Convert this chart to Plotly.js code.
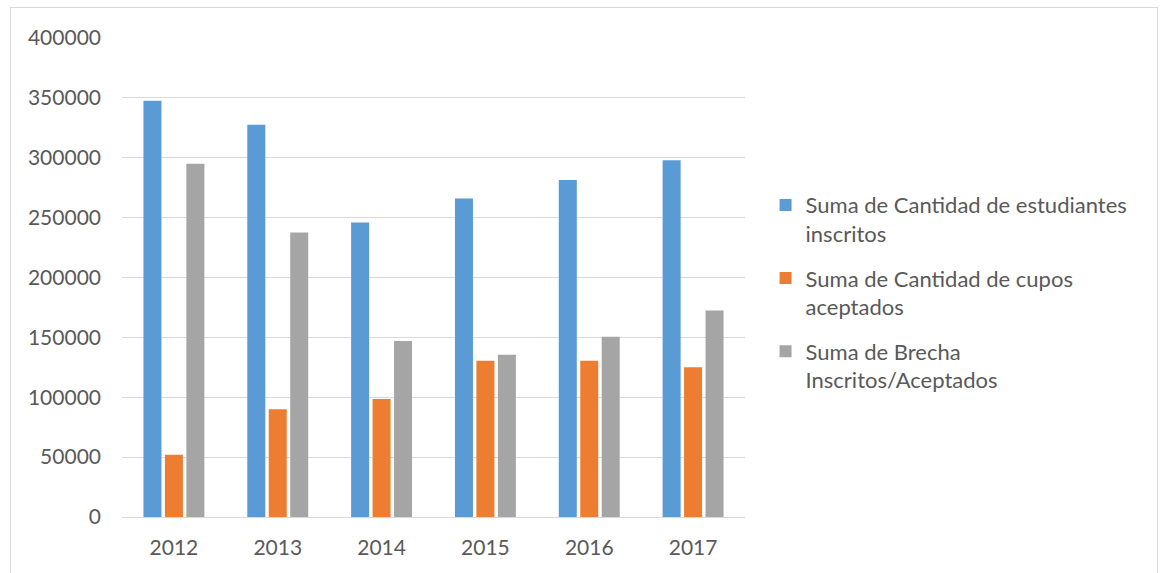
<!DOCTYPE html>
<html>
<head>
<meta charset="utf-8">
<script src="https://cdn.plot.ly/plotly-3.0.1.min.js"></script>
<style>
html,body{margin:0;padding:0;background:#fff;}
#wrap{position:relative;width:1160px;height:573px;overflow:hidden;}
#frame{position:absolute;left:10px;top:7px;width:1146px;height:600px;border:1px solid #d9d9d9;pointer-events:none;}
#chart{position:absolute;left:0;top:0;width:1160px;height:573px;}
</style>
</head>
<body>
<div id="wrap">
<div id="chart"></div>
<div id="frame"></div>
</div>
<script>
const years = ['2012','2013','2014','2015','2016','2017'];
const inscritos = [347500, 327500, 246000, 266000, 281500, 298000];
const aceptados = [52000, 90000, 98500, 130500, 130500, 125000];
const brecha = [295000, 237500, 147000, 135500, 150500, 172500];
const names = ['Suma de Cantidad de estudiantes<br>inscritos', 'Suma de Cantidad de cupos<br>aceptados', 'Suma de Brecha<br>Inscritos/Aceptados'];
const colors = ['#5B9BD5', '#ED7D31', '#A5A5A5'];
const yTicks = [0, 50000, 100000, 150000, 200000, 250000, 300000, 350000, 400000];

const series = [inscritos, aceptados, brecha];
const traces = series.map((vals, i) => ({
  type: 'bar', x: years, y: vals, name: names[i],
  legendgroup: 'g' + i,
  marker: {color: colors[i], line: {width: 0}},
  hoverinfo: 'x+y'
}));

const font = {family: 'Lato, "Open Sans", sans-serif', size: 21, color: '#595959'};
const layout = {
  width: 1160, height: 573,
  margin: {l: 122, r: 415, t: 38, b: 56, pad: 0},
  paper_bgcolor: '#ffffff', plot_bgcolor: '#ffffff',
  font: font,
  barmode: 'group', bargap: 0.38, bargroupgap: 0.16,
  showlegend: true,
  legend: {x: 1.033, xanchor: 'left', y: 0.695, yanchor: 'top', valign: 'top', font: {family: font.family, size: 22, color: '#595959'}, traceorder: 'grouped', tracegroupgap: 13, itemwidth: 30},
  xaxis: {type: 'category', showgrid: false, showline: true, linecolor: '#d9d9d9', linewidth: 1, ticks: '', ticklabelstandoff: 12, tickfont: font, fixedrange: true},
  yaxis: {range: [0, 400000], tickvals: yTicks, ticktext: yTicks.map(String), showgrid: true, gridcolor: '#d9d9d9', gridwidth: 1, zeroline: true, zerolinecolor: '#d9d9d9', showline: false, ticks: '', ticklabelstandoff: 20, tickfont: font, fixedrange: true}
};
Plotly.newPlot('chart', traces, layout, {displayModeBar: false, staticPlot: true});
</script>
</body>
</html>
